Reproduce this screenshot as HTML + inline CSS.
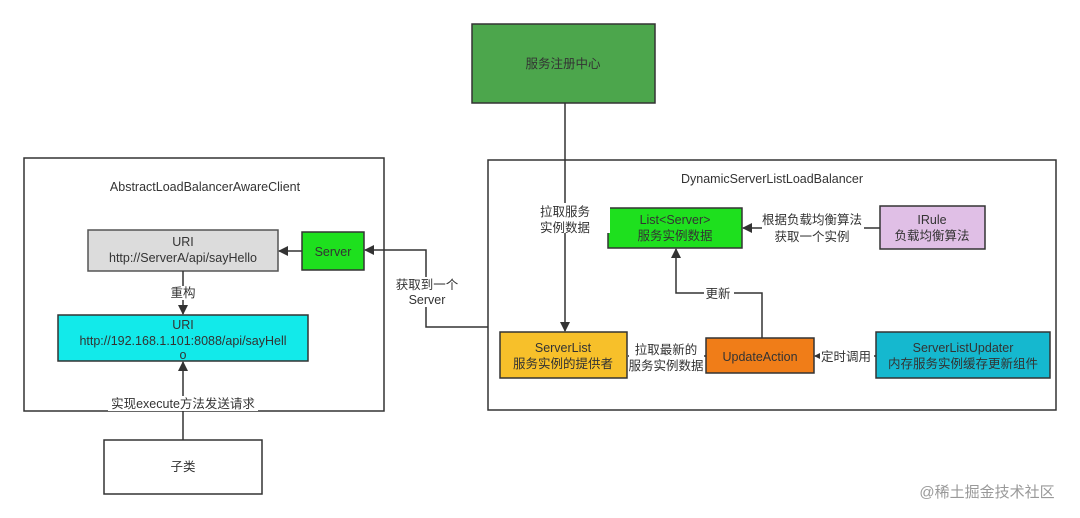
<!DOCTYPE html>
<html><head><meta charset="utf-8"><style>
body{margin:0;background:#fff;}
svg{display:block;font-family:"Liberation Sans","Noto Sans CJK SC",sans-serif;}
text{font-size:12.5px;fill:#333;text-anchor:middle;}
</style></head><body>
<svg width="1080" height="518" viewBox="0 0 1080 518" xmlns="http://www.w3.org/2000/svg">
<defs><marker id="a" markerWidth="10" markerHeight="10" refX="9" refY="5" orient="auto" markerUnits="userSpaceOnUse"><path d="M0,0 L10,5 L0,10 z" fill="#333"/></marker></defs>
<g stroke="#333" stroke-width="1.5" fill="none">
<rect x="24" y="158" width="360" height="253"/>
<rect x="488" y="160" width="568" height="250"/>
</g>
<text x="205" y="191">AbstractLoadBalancerAwareClient</text>
<text x="772" y="183">DynamicServerListLoadBalancer</text>
<g stroke="#333" stroke-width="1.5">
<rect x="472" y="24" width="183" height="79" fill="#4ca64c"/>
<rect x="88" y="230" width="190" height="41" fill="#dcdcdc" stroke="#555"/>
<rect x="302" y="232" width="62" height="38" fill="#1ee01e"/>
<rect x="58" y="315" width="250" height="46" fill="#12eaea"/>
<rect x="104" y="440" width="158" height="54" fill="#fff"/>
<rect x="608" y="208" width="134" height="40" fill="#1ee01e"/>
<rect x="880" y="206" width="105" height="43" fill="#e0bfe6"/>
<rect x="500" y="332" width="127" height="46" fill="#f7c02a"/>
<rect x="706" y="338" width="108" height="35" fill="#f07d18"/>
<rect x="876" y="332" width="174" height="46" fill="#15b8cf"/>
</g>
<g stroke="#333" stroke-width="1.5" fill="none">
<path d="M565,103 V331" marker-end="url(#a)"/>
<path d="M488,327 H426 V250 H365" marker-end="url(#a)"/>
<path d="M302,251 H279" marker-end="url(#a)"/>
<path d="M183,271 V314" marker-end="url(#a)"/>
<path d="M183,440 V362" marker-end="url(#a)"/>
<path d="M880,228 H743" marker-end="url(#a)"/>
<path d="M762,338 V293 H676 V249" marker-end="url(#a)"/>
<path d="M706,356 H628"/>
<path d="M876,356 H815" marker-end="url(#a)"/>
</g>
<g>
<rect x="520" y="203" width="90" height="30" fill="#fff"/>
<text x="565" y="216">拉取服务</text><text x="565" y="232">实例数据</text>
<text x="563" y="68" fill="#222">服务注册中心</text>
<rect x="392" y="277" width="70" height="30" fill="#fff"/>
<text x="427" y="289">获取到一个</text><text x="427" y="304">Server</text>
<text x="183" y="246">URI</text><text x="183" y="262">http://ServerA/api/sayHello</text>
<text x="333" y="256">Server</text>
<rect x="168" y="286" width="30" height="14" fill="#fff"/>
<text x="183" y="297">重构</text>
<text x="183" y="329">URI</text><text x="183" y="345">http://192.168.1.101:8088/api/sayHell</text><text x="183" y="359">o</text>
<rect x="108" y="396" width="150" height="15" fill="#fff"/>
<text x="183" y="408">实现execute方法发送请求</text>
<text x="183" y="471" fill="#222">子类</text>
<text x="675" y="224">List&lt;Server&gt;</text><text x="675" y="240">服务实例数据</text>
<rect x="762" y="214" width="102" height="30" fill="#fff"/>
<text x="812" y="224">根据负载均衡算法</text><text x="812" y="241">获取一个实例</text>
<text x="932" y="224">IRule</text><text x="932" y="240">负载均衡算法</text>
<rect x="704" y="287" width="30" height="14" fill="#fff"/>
<text x="718" y="298">更新</text>
<text x="563" y="352">ServerList</text><text x="563" y="368">服务实例的提供者</text>
<rect x="629" y="342" width="75" height="30" fill="#fff"/>
<text x="666" y="354">拉取最新的</text><text x="666" y="370">服务实例数据</text>
<text x="760" y="361">UpdateAction</text>
<rect x="820" y="349" width="54" height="15" fill="#fff"/>
<text x="846" y="361">定时调用</text>
<text x="963" y="352">ServerListUpdater</text><text x="963" y="368">内存服务实例缓存更新组件</text>
<text x="987" y="497" style="font-size:15px;fill:#999">@稀土掘金技术社区</text>
</g>
</svg>
</body></html>
